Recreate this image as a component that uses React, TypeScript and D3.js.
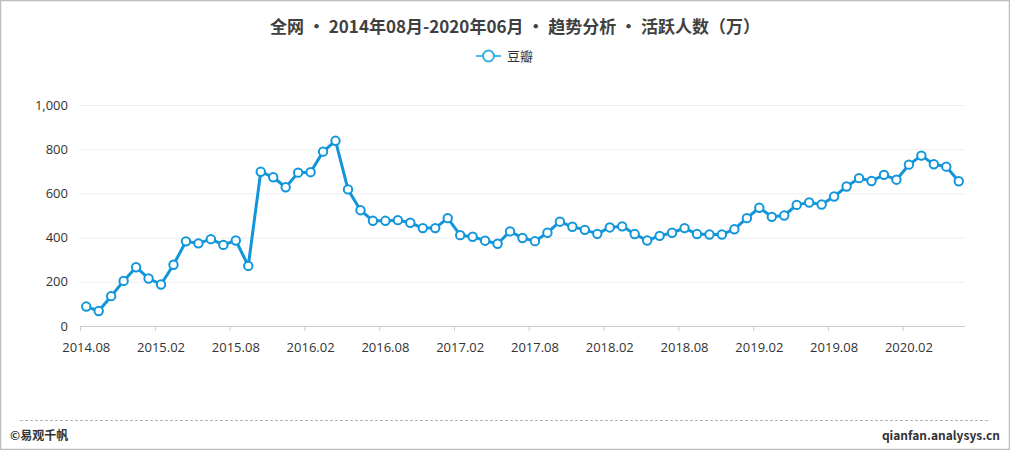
import React, { useEffect, useRef } from "react";
import * as d3 from "d3";

const months = [
  "2014.08", "2014.09", "2014.10", "2014.11", "2014.12",
  "2015.01", "2015.02", "2015.03", "2015.04", "2015.05", "2015.06", "2015.07", "2015.08", "2015.09", "2015.10", "2015.11", "2015.12",
  "2016.01", "2016.02", "2016.03", "2016.04", "2016.05", "2016.06", "2016.07", "2016.08", "2016.09", "2016.10", "2016.11", "2016.12",
  "2017.01", "2017.02", "2017.03", "2017.04", "2017.05", "2017.06", "2017.07", "2017.08", "2017.09", "2017.10", "2017.11", "2017.12",
  "2018.01", "2018.02", "2018.03", "2018.04", "2018.05", "2018.06", "2018.07", "2018.08", "2018.09", "2018.10", "2018.11", "2018.12",
  "2019.01", "2019.02", "2019.03", "2019.04", "2019.05", "2019.06", "2019.07", "2019.08", "2019.09", "2019.10", "2019.11", "2019.12",
  "2020.01", "2020.02", "2020.03", "2020.04", "2020.05", "2020.06",
];

// 豆瓣 active users (万)
const douban = [
  88, 68, 135, 204, 266,
  215, 188, 277, 383, 374, 393, 367, 387, 272, 698, 673, 628,
  694, 696, 789, 838, 618, 524, 476, 476, 479, 467, 443, 443,
  488, 411, 404, 386, 372, 428, 398, 384, 422, 472, 449, 435,
  417, 446, 451, 416, 387, 408, 422, 443, 416, 414, 414, 438,
  488, 535, 494, 500, 548, 559, 550, 586, 631, 669, 656, 684,
  662, 730, 771, 732, 721, 655,
];

const yTicks = [0, 200, 400, 600, 800, 1000];
const xTickLabels = [
  "2014.08", "2015.02", "2015.08", "2016.02", "2016.08", "2017.02", "2017.08",
  "2018.02", "2018.08", "2019.02", "2019.08", "2020.02",
];

const W = 1010;
const H = 450;
const LINE = "#1296db";
const NUM_FONT = "'Open Sans', 'Noto Sans', sans-serif";
const CJK_FONT = "'Noto Sans CJK SC', 'Noto Sans', sans-serif";

export default function App() {
  const svgRef = useRef<SVGSVGElement>(null);

  useEffect(() => {
    if (!svgRef.current) return;
    const svg = d3.select(svgRef.current);
    svg.selectAll("*").remove();

    const margin = { left: 80, right: 45, top: 105, bottom: 124 };
    const innerW = W - margin.left - margin.right;
    const innerH = H - margin.top - margin.bottom;

    // frame
    svg
      .append("rect")
      .attr("x", 0.5)
      .attr("y", 0.5)
      .attr("width", W - 1)
      .attr("height", H - 1)
      .attr("fill", "#fff")
      .attr("stroke", "#bdbdbd")
      .attr("stroke-width", 1.5);

    // title
    svg
      .append("text")
      .attr("x", 515)
      .attr("y", 33)
      .attr("text-anchor", "middle")
      .style("font-family", CJK_FONT)
      .style("font-size", "17px")
      .style("font-weight", "bold")
      .style("fill", "#404040")
      .text("全网 • 2014年08月-2020年06月 • 趋势分析 • 活跃人数（万）");

    // legend
    const lg = svg.append("g").attr("transform", "translate(476,56)");
    lg.append("line")
      .attr("x1", 0)
      .attr("x2", 25)
      .attr("stroke", "#4db8ec")
      .attr("stroke-width", 2);
    lg.append("circle")
      .attr("cx", 12.5)
      .attr("r", 5.5)
      .attr("fill", "#fff")
      .attr("stroke", "#33aee8")
      .attr("stroke-width", 2);
    lg.append("text")
      .attr("x", 31)
      .attr("y", 4.5)
      .style("font-family", CJK_FONT)
      .style("font-size", "13px")
      .style("fill", "#333")
      .text("豆瓣");

    const x = d3.scaleBand<string>().domain(months).range([0, innerW]);
    const y = d3.scaleLinear().domain([0, 1000]).range([innerH, 0]);

    const g = svg
      .append("g")
      .attr("transform", `translate(${margin.left},${margin.top})`);

    // grid
    g.selectAll(".grid")
      .data(yTicks.filter((t) => t > 0))
      .enter()
      .append("line")
      .attr("x1", 0)
      .attr("x2", innerW)
      .attr("y1", (d) => y(d) + 0.5)
      .attr("y2", (d) => y(d) + 0.5)
      .attr("stroke", "#efefef");

    // y labels
    const yAxis = g
      .append("g")
      .attr("transform", "translate(-9,0)")
      .call(
        d3
          .axisLeft(y)
          .tickValues(yTicks)
          .tickSize(0)
          .tickFormat((d) => d3.format(",")(d as number))
      );
    yAxis.select(".domain").remove();
    yAxis
      .selectAll("text")
      .style("font-family", NUM_FONT)
      .style("font-size", "13px")
      .style("fill", "#333");

    // x axis: ticks at band boundaries, labels at band centres
    const xa = g.append("g").attr("transform", `translate(0,${innerH})`);
    xa.append("line")
      .attr("x1", 0)
      .attr("x2", innerW)
      .attr("y1", 0.5)
      .attr("y2", 0.5)
      .attr("stroke", "#cccccc");
    const tickG = xa
      .selectAll(".xt")
      .data(xTickLabels)
      .enter()
      .append("g")
      .attr("transform", (d) => `translate(${x(d) || 0},0)`);
    tickG
      .append("line")
      .attr("x1", 0.5)
      .attr("x2", 0.5)
      .attr("y2", 5)
      .attr("stroke", "#cccccc");
    tickG
      .append("text")
      .attr("x", x.bandwidth() / 2)
      .attr("y", 26)
      .attr("text-anchor", "middle")
      .style("font-family", NUM_FONT)
      .style("font-size", "13px")
      .style("fill", "#333")
      .text((d) => d);

    const cx = (i: number) => (x(months[i]) || 0) + x.bandwidth() / 2;

    const line = d3
      .line<number>()
      .x((_, i) => cx(i))
      .y((d) => y(d));

    g.append("path")
      .datum(douban)
      .attr("d", line)
      .attr("fill", "none")
      .attr("stroke", LINE)
      .attr("stroke-width", 3)
      .attr("stroke-linejoin", "round");

    g.selectAll(".pt")
      .data(douban)
      .enter()
      .append("circle")
      .attr("cx", (_, i) => cx(i))
      .attr("cy", (d) => y(d))
      .attr("r", 4.2)
      .attr("fill", "#fff")
      .attr("stroke", LINE)
      .attr("stroke-width", 2);

    // footer
    svg
      .append("line")
      .attr("x1", 20)
      .attr("x2", 990)
      .attr("y1", 420.5)
      .attr("y2", 420.5)
      .attr("stroke", "#b5b5b5")
      .attr("stroke-dasharray", "3,2");
    svg
      .append("text")
      .attr("x", 10)
      .attr("y", 440)
      .style("font-family", CJK_FONT)
      .style("font-size", "12px")
      .style("font-weight", "bold")
      .style("fill", "#333")
      .text("©易观千帆");
    svg
      .append("text")
      .attr("x", 1000)
      .attr("y", 440)
      .attr("text-anchor", "end")
      .style("font-family", CJK_FONT)
      .style("font-size", "12px")
      .style("font-weight", "bold")
      .style("fill", "#333")
      .text("qianfan.analysys.cn");
  }, []);

  return (
    <svg
      ref={svgRef}
      width={W}
      height={H}
      style={{ position: "fixed", left: 0, top: 0, background: "#fff" }}
    />
  );
}
